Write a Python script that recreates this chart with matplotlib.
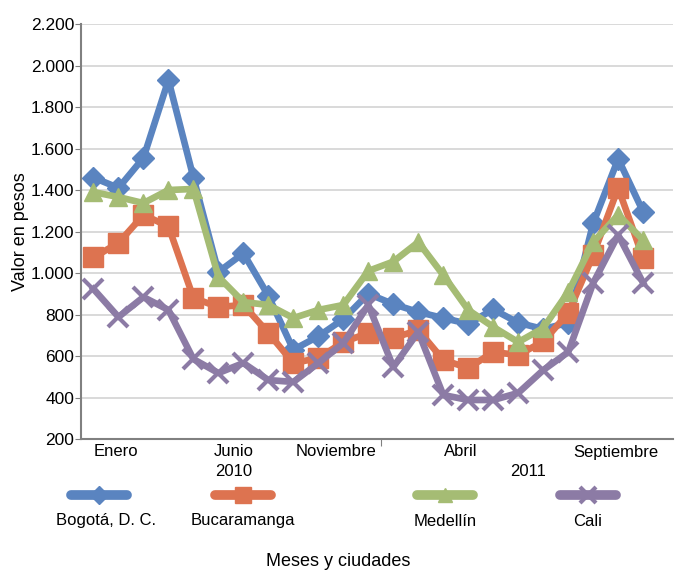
import numpy as np
import matplotlib.pyplot as plt
from matplotlib.lines import Line2D
import matplotlib.transforms as mtransforms

# precio mensual por ciudad, ene 2010 - nov 2011
bogota = [1460, 1410, 1555, 1930, 1460, 1005, 1095, 890, 630, 695, 778, 900,
          850, 812, 783, 755, 825, 760, 730, 760, 1240, 1550, 1295]
bucaramanga = [1075, 1145, 1280, 1225, 880, 836, 846, 711, 566, 590, 667, 711,
               687, 725, 581, 542, 619, 605, 670, 807, 1087, 1410, 1072]
medellin = [1390, 1366, 1337, 1400, 1405, 982, 860, 846, 783, 822, 846, 1010,
            1055, 1149, 990, 822, 740, 667, 735, 908, 1149, 1280, 1159]
cali = [923, 788, 884, 822, 585, 518, 566, 484, 475, 566, 662, 846,
        547, 716, 412, 388, 388, 422, 532, 619, 952, 1183, 952]

series_names = ['Bogotá, D. C.', 'Bucaramanga', 'Medellín', 'Cali']
month_labels = ['Enero', 'Junio', 'Noviembre', 'Abril', 'Septiembre']
month_pos = [0.9, 5.6, 9.7, 14.7, 20.9]
year_labels = ['2010', '2011']
year_pos = [5.6, 17.4]

colors = ['#5A84C0', '#DD7350', '#A5BC74', '#8C7BA5']
markers = ['D', 's', '^', 'x']
msizes = [11, 14, 13, 14]

plt.rcParams['font.family'] = ['Liberation Sans', 'DejaVu Sans']

fig = plt.figure(figsize=(6.76, 5.72), dpi=100)
ax = fig.add_axes([0.1198, 0.2325, 0.876, 0.7255])

x = np.arange(len(bogota))
for data, c, m, ms in zip([bogota, bucaramanga, medellin, cali], colors, markers, msizes):
    ax.plot(x, data, color=c, lw=4.8, marker=m, ms=ms, mew=3 if m == 'x' else 1,
            mec=c, mfc=c, solid_joinstyle='round', zorder=3)

ax.set_ylim(200, 2200)
ax.set_xlim(-0.5, 23.2)
ax.set_yticks(np.arange(200, 2201, 200))
ax.set_yticklabels([f'{v:,}'.replace(',', '.') for v in range(200, 2201, 200)], fontsize=12.5)
ax.yaxis.grid(True, color='#D3D3D3', lw=1.2)
ax.set_axisbelow(True)
ax.tick_params(axis='y', length=4, color='#808080', pad=1)
ax.set_xticks([11.5])
ax.set_xticklabels([''])
ax.tick_params(axis='x', length=5, color='#808080')
for s in ['top', 'right']:
    ax.spines[s].set_visible(False)
for s in ['left', 'bottom']:
    ax.spines[s].set_color('#808080')
    ax.spines[s].set_linewidth(1.5)

ax.set_ylabel('Valor en pesos', fontsize=13, labelpad=1)

trans = mtransforms.blended_transform_factory(ax.transData, fig.transFigure)
for lbl, p in zip(month_labels, month_pos):
    ax.text(p, 1 - 452 / 572, lbl, transform=trans, ha='center', va='center', fontsize=12)
for lbl, p in zip(year_labels, year_pos):
    ax.text(p, 1 - 471 / 572, lbl, transform=trans, ha='center', va='center', fontsize=12)

# leyenda manual
leg_x = [99, 243, 445, 588]
for name, c, m, ms, lx in zip(series_names, colors, markers, msizes, leg_x):
    fx = lx / 676
    fig.add_artist(Line2D([fx - 0.042, fx + 0.042], [1 - 495 / 572] * 2, color=c, lw=7,
                          solid_capstyle='round', transform=fig.transFigure))
    fig.add_artist(Line2D([fx], [1 - 495 / 572], color=c, marker=m, ms=ms * 0.8,
                          mew=3 if m == 'x' else 1, mec=c, mfc=c, transform=fig.transFigure))
    fig.text(lx / 676 + (0.01 if lx == 99 else 0), 1 - 521 / 572, name,
             ha='center', va='center', fontsize=12)

fig.text(338 / 676, 1 - 562 / 572, 'Meses y ciudades', ha='center', va='center', fontsize=13)

fig.savefig('out.png', dpi=100)
